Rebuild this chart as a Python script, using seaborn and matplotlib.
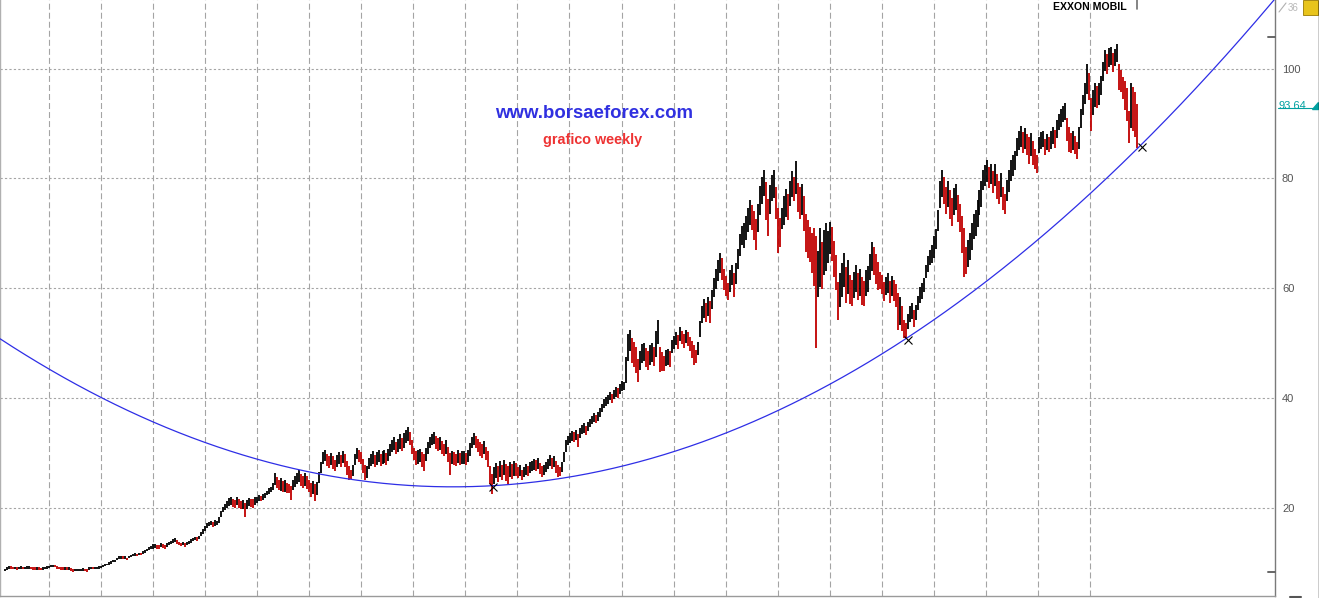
import numpy as np
import pandas as pd
import matplotlib
matplotlib.use("Agg")
import matplotlib.pyplot as plt
import matplotlib.dates as mdates
from matplotlib.lines import Line2D
from matplotlib.patches import Rectangle, Polygon
import seaborn as sns

# ---------------- data (bi-weekly bars) ----------------
first_bar = "1993-03-02"
bar_step = "14D"

highs = [
    # 1993
    9.0, 9.2, 9.5, 9.4, 9.3, 9.3, 9.2, 9.3, 9.4, 9.3, 9.3, 9.4, 9.4, 9.3, 9.3, 9.2, 9.3, 9.2, 9.1, 9.2, 9.3, 9.4,
    # 1994
    9.5, 9.7, 9.7, 9.6, 9.5, 9.3, 9.3, 9.2, 9.2, 9.2, 9.3, 9.1, 8.9, 8.9, 9.0, 9.0, 9.0, 9.1, 9.0, 8.9, 9.2, 9.3, 9.2, 9.3, 9.3, 9.4,
    # 1995
    9.5, 9.6, 9.8, 9.9, 10.1, 10.3, 10.5, 10.6, 11.0, 11.2, 11.3, 11.2, 11.3, 11.0, 11.3, 11.5, 11.6, 11.8, 11.7, 11.9, 11.8, 12.1, 12.3, 12.5, 12.9, 13.1,
    # 1996
    13.4, 13.5, 13.3, 13.2, 13.6, 13.4, 13.3, 13.7, 13.9, 14.1, 14.3, 14.5, 14.2, 13.9, 13.7, 13.8, 13.6, 13.9, 14.0, 14.3, 14.6, 14.8, 14.7, 15.0, 15.6, 16.2,
    # 1997
    16.8, 17.2, 17.5, 17.6, 17.4, 17.8, 17.7, 18.3, 19.5, 20.2, 20.8, 21.3, 21.8, 22.0, 21.7, 21.5, 22.0, 21.6, 21.2, 21.4, 21.0, 21.5, 21.9, 21.7, 21.6, 22.0,
    # 1998
    22.0, 22.3, 22.2, 22.5, 22.8, 23.2, 23.6, 23.9, 24.6, 26.3, 25.6, 25.2, 25.4, 24.9, 25.2, 24.6, 24.4, 24.0, 25.2, 25.9, 26.4, 26.9, 26.2, 25.8, 26.3, 25.9,
    # 1999
    25.2, 24.6, 24.9, 24.3, 24.8, 26.5, 28.4, 30.2, 30.6, 29.8, 29.5, 30.1, 29.4, 28.8, 29.6, 30.2, 29.7, 30.4, 29.8, 28.6, 27.6, 26.9, 27.8, 29.9, 31.0, 30.6,
    # 2000
    30.2, 29.0, 27.8, 27.6, 29.2, 29.8, 30.4, 29.6, 30.2, 30.6, 29.9, 30.3, 30.5, 30.1, 30.8, 31.6, 32.4, 32.9, 32.1, 32.6, 33.4, 32.8, 33.6, 34.2, 34.7, 33.8,
    # 2001
    32.4, 31.0, 30.3, 30.5, 30.8, 30.2, 29.8, 30.9, 32.0, 32.9, 33.5, 33.9, 33.2, 32.8, 33.0, 32.2, 31.6, 32.4, 31.2, 30.0, 30.4, 30.2, 29.8, 30.5, 30.0, 30.3,
    # 2002
    30.4, 30.0, 30.6, 31.8, 33.0, 33.6, 33.2, 32.6, 32.0, 31.6, 32.3, 31.2, 30.4, 27.6, 26.2, 27.4, 28.2, 27.6, 28.5, 27.8, 28.7, 28.0, 27.6, 28.4, 28.0, 28.6,
    # 2003
    28.2, 27.4, 27.8, 27.0, 27.5, 28.0, 27.6, 28.3, 28.6, 29.0, 28.8, 29.1, 28.2, 27.6, 27.9, 28.4, 29.0, 29.6, 29.2, 29.4, 28.6, 27.8, 27.4, 28.3, 30.2, 32.4,
    # 2004
    33.2, 33.6, 34.1, 33.9, 34.3, 33.5, 34.6, 35.2, 35.4, 35.0, 35.6, 36.2, 36.8, 37.3, 36.9, 37.4, 38.2, 39.0, 39.8, 40.2, 40.6, 41.2, 40.8, 41.5, 42.0, 41.8,
    # 2005
    42.6, 43.2, 43.0, 47.5, 51.6, 52.4, 51.0, 50.2, 49.4, 47.2, 48.6, 49.8, 50.1, 49.2, 48.6, 49.6, 50.0, 49.4, 52.2, 54.2, 49.3, 48.4, 47.6, 48.8, 49.0, 48.5,
    # 2006
    50.6, 51.4, 52.0, 51.5, 52.9, 52.2, 51.6, 52.4, 52.0, 51.2, 50.4, 49.6, 48.8, 50.2, 54.0, 56.8, 58.0, 57.4, 58.4, 57.6, 59.6, 61.8, 63.5, 65.2, 66.4, 65.5,
    # 2007
    63.5, 62.2, 61.0, 63.4, 64.2, 62.8, 64.6, 67.2, 69.8, 71.4, 71.8, 73.2, 74.6, 76.0, 75.2, 74.0, 72.6, 75.4, 78.6, 80.2, 81.5, 79.4, 76.2, 78.8, 80.6, 81.5,
    # 2008
    78.4, 74.7, 72.8, 74.6, 76.8, 78.0, 77.2, 79.6, 81.4, 80.2, 83.1, 79.2, 78.4, 79.0, 76.8, 73.6, 72.4, 71.2, 70.0, 71.0, 69.6, 66.8, 71.0, 68.4, 70.6, 71.8,
    # 2009
    70.4, 72.0, 71.2, 68.6, 66.0, 61.2, 62.8, 64.6, 66.4, 63.8, 65.2, 62.4, 61.6, 63.0, 64.2, 62.8, 63.6, 62.0, 61.4, 63.4, 64.0, 66.2, 68.4, 67.6, 66.2, 64.8,
    # 2010
    63.0, 62.4, 61.2, 62.0, 62.7, 61.4, 62.2, 61.6, 60.8, 59.2, 58.4, 56.8, 54.2, 53.6, 55.4, 56.8, 57.3, 56.0, 57.0, 58.6, 60.2, 60.9, 61.8, 64.2, 65.8, 66.9,
    # 2011
    67.8, 69.6, 70.8, 74.2, 79.6, 81.5, 80.2, 78.4, 79.6, 77.8, 76.4, 78.2, 79.0, 77.0, 75.4, 73.2, 71.0, 67.6, 68.8, 70.0, 71.8, 73.6, 74.2, 76.0, 77.8, 79.6,
    # 2012
    81.6, 82.4, 83.3, 82.0, 82.7, 81.4, 82.6, 80.8, 79.6, 81.0, 78.4, 77.2, 79.8, 81.6, 83.4, 84.2, 85.0, 87.4, 88.6, 89.6, 88.4, 89.2, 88.0, 87.6, 88.2, 86.8,
    # 2013
    85.4, 84.2, 87.6, 88.4, 88.7, 87.2, 88.0, 87.6, 88.6, 89.4, 88.8, 90.6, 91.8, 92.6, 93.2, 93.8, 91.0, 89.4, 88.2, 88.7, 87.8, 86.6, 89.4, 92.6, 95.2, 97.4,
    # 2014
    100.9, 99.2, 94.6, 96.0, 97.3, 96.8, 97.4, 98.6, 101.2, 103.3, 102.6, 103.8, 104.0, 102.8, 103.6, 104.5, 100.9, 99.8, 98.4, 97.8, 96.4, 92.2, 97.3, 96.6, 95.8, 93.6,
]

lows = [
    # 1993
    8.5, 8.7, 9.0, 9.0, 8.9, 8.9, 8.8, 8.9, 8.9, 8.9, 8.9, 9.0, 9.0, 8.9, 8.8, 8.8, 8.8, 8.8, 8.7, 8.8, 8.9, 9.0,
    # 1994
    9.1, 9.3, 9.3, 9.2, 9.0, 8.9, 8.8, 8.8, 8.8, 8.7, 8.8, 8.6, 8.4, 8.5, 8.6, 8.6, 8.6, 8.6, 8.5, 8.4, 8.8, 8.9, 8.9, 8.9, 8.9, 9.0,
    # 1995
    9.1, 9.2, 9.4, 9.6, 9.7, 9.9, 10.1, 10.2, 10.5, 10.7, 10.8, 10.7, 10.8, 10.5, 10.9, 11.1, 11.2, 11.3, 11.3, 11.4, 11.4, 11.6, 11.8, 12.1, 12.3, 12.5,
    # 1996
    12.6, 12.8, 12.5, 12.6, 12.9, 12.7, 12.6, 13.0, 13.2, 13.4, 13.6, 13.9, 13.5, 13.2, 13.1, 13.2, 13.0, 13.3, 13.4, 13.7, 14.0, 14.2, 14.1, 14.4, 14.9, 15.3,
    # 1997
    15.9, 16.4, 16.7, 16.9, 16.6, 16.8, 17.0, 17.2, 18.4, 19.3, 19.6, 20.0, 20.4, 20.6, 20.2, 20.0, 20.5, 20.1, 19.8, 19.9, 18.4, 19.8, 20.4, 20.2, 20.0, 20.5,
    # 1998
    21.0, 21.3, 21.2, 21.5, 21.8, 22.3, 22.6, 22.9, 23.3, 24.2, 23.6, 23.3, 23.2, 22.9, 23.0, 22.7, 22.8, 21.5, 23.3, 23.9, 24.3, 24.7, 24.0, 23.6, 24.0, 23.5,
    # 1999
    23.0, 22.1, 22.6, 21.3, 22.4, 24.6, 26.4, 28.0, 28.5, 27.6, 27.3, 27.9, 27.2, 26.8, 27.4, 28.0, 27.5, 28.2, 27.4, 26.0, 25.1, 25.3, 25.9, 27.8, 28.9, 28.3,
    # 2000
    28.0, 26.4, 25.1, 25.4, 27.2, 27.6, 28.0, 27.5, 27.9, 28.3, 27.6, 28.0, 28.2, 27.8, 28.6, 29.5, 30.2, 30.6, 29.8, 30.2, 30.7, 30.4, 31.0, 31.8, 32.2, 31.4,
    # 2001
    29.8, 28.7, 27.8, 28.0, 28.3, 27.5, 26.7, 28.6, 29.9, 30.9, 31.4, 31.7, 30.8, 30.3, 30.6, 29.8, 29.4, 29.9, 28.4, 26.0, 28.0, 27.9, 27.6, 28.2, 27.9, 28.0,
    # 2002
    28.0, 27.8, 28.4, 29.5, 31.0, 31.4, 30.9, 30.2, 29.5, 29.2, 29.8, 28.8, 27.5, 24.3, 22.6, 24.4, 25.5, 24.8, 25.7, 25.2, 26.0, 25.0, 24.3, 25.6, 25.3, 25.9,
    # 2003
    25.9, 25.4, 25.8, 25.2, 25.6, 26.0, 25.8, 26.4, 26.7, 27.0, 26.8, 27.1, 26.2, 25.7, 26.0, 26.6, 27.1, 27.6, 27.2, 27.4, 26.4, 25.6, 25.8, 26.6, 28.4, 30.2,
    # 2004
    31.4, 31.8, 32.3, 32.0, 32.4, 31.1, 32.8, 33.5, 33.7, 33.3, 34.0, 34.8, 35.3, 35.7, 35.4, 35.9, 36.6, 37.4, 38.2, 38.6, 39.0, 39.6, 39.2, 39.8, 40.2, 40.1,
    # 2005
    40.8, 41.3, 41.5, 42.8, 46.8, 48.5, 46.4, 45.6, 44.6, 42.9, 45.2, 46.4, 46.8, 45.6, 45.2, 46.1, 46.6, 45.8, 47.5, 49.8, 44.7, 44.9, 45.0, 45.8, 46.0, 45.6,
    # 2006
    48.2, 48.9, 49.6, 49.0, 50.4, 49.8, 49.2, 50.0, 49.5, 48.6, 47.4, 46.0, 46.4, 47.8, 51.2, 53.6, 54.6, 53.8, 55.0, 53.6, 56.2, 58.4, 59.8, 61.4, 62.8, 61.6,
    # 2007
    59.6, 58.6, 57.8, 59.4, 60.6, 58.4, 60.8, 63.6, 65.8, 67.8, 67.4, 68.7, 70.2, 71.6, 70.6, 68.8, 67.0, 70.2, 73.4, 75.4, 76.8, 72.4, 69.5, 73.6, 75.8, 76.4,
    # 2008
    72.6, 66.4, 67.6, 70.8, 71.6, 73.0, 72.4, 75.0, 76.6, 75.8, 77.2, 73.8, 72.6, 73.4, 70.4, 66.6, 65.6, 64.8, 62.7, 60.4, 49.1, 58.4, 60.2, 59.8, 62.4, 63.2,
    # 2009
    64.6, 66.2, 65.0, 62.0, 59.6, 54.2, 56.6, 58.4, 60.2, 57.4, 59.0, 57.2, 56.8, 58.2, 59.4, 57.8, 58.6, 57.0, 56.8, 58.6, 59.4, 61.6, 63.2, 62.4, 60.8, 59.6,
    # 2010
    59.8, 59.0, 57.6, 58.8, 59.2, 57.4, 58.6, 57.6, 56.6, 52.4, 53.4, 52.2, 51.0, 50.8, 52.6, 53.8, 54.4, 52.9, 54.2, 56.0, 57.4, 58.0, 59.4, 61.8, 63.0, 64.2,
    # 2011
    64.6, 65.6, 67.2, 70.4, 74.6, 76.6, 75.4, 73.6, 74.8, 72.6, 71.4, 73.4, 74.2, 72.0, 70.2, 66.4, 62.0, 62.6, 63.8, 65.2, 67.0, 69.0, 69.6, 71.2, 73.4, 74.8,
    # 2012
    77.8, 78.6, 79.4, 78.2, 79.0, 77.4, 78.6, 76.2, 75.4, 76.6, 74.2, 73.6, 75.8, 77.6, 79.6, 80.4, 81.6, 84.0, 85.2, 85.8, 84.6, 85.4, 84.2, 82.6, 84.0, 82.4,
    # 2013
    81.8, 80.9, 84.6, 85.4, 85.8, 84.2, 85.2, 84.8, 85.4, 86.2, 85.6, 87.4, 88.8, 89.4, 90.2, 90.6, 86.8, 84.8, 84.6, 85.2, 84.4, 83.6, 85.4, 89.2, 91.6, 93.6,
    # 2014
    95.4, 94.2, 88.7, 91.6, 93.0, 92.9, 93.4, 95.2, 97.8, 99.6, 99.0, 100.2, 100.6, 99.4, 100.4, 101.2, 96.0, 95.8, 94.4, 92.4, 90.5, 86.5, 89.2, 88.6, 87.6, 85.6,
]

last_close = 93.64
price_ticks = [20, 40, 60, 80, 100]
marker_levels = [105.8, 8.4]

# blue parabola drawn by the chart author: points read along it
curve_dates = ["1993-01-25", "1998-06-13", "2002-01-15", "2003-10-10", "2006-09-12", "2010-07-03", "2012-11-20", "2014-12-27", "2017-07-10"]
curve_prices = [50.95, 27.7, 23.6, 25.2, 33.0, 50.6, 69.0, 85.7, 112.4]
# touch points marked with an X
touch_dates = ["2002-07-11", "2010-07-03", "2014-12-27"]
touch_prices = [23.8, 50.6, 85.7]

title = "EXXON MOBIL"
site = "www.borsaeforex.com"
subtitle = "grafico weekly"

# ---------------- drawing ----------------
sns.set_theme(style="white")
plt.rcParams["font.family"] = ["Liberation Sans", "DejaVu Sans"]
plt.rcParams["lines.scale_dashes"] = False

W, H = 1319, 598
fig = plt.figure(figsize=(W / 100, H / 100), dpi=100)
fig.patch.set_facecolor("white")
ax = fig.add_axes([0, 2 / H, 1275 / W, 1 - 2 / H])
ax.set_facecolor("white")

hi = np.array(highs)
lo = np.array(lows)
assert len(hi) == len(lo)
dates = pd.date_range(first_bar, periods=len(hi), freq=bar_step)
mids = (hi + lo) / 2
up = np.r_[True, np.diff(mids) >= 0]
colors = np.where(up, "#000000", "#c00000")

x_left = pd.Timestamp("1993-01-25")
x_right = pd.Timestamp("2017-07-18")

# grid
for yr in range(1994, dates[-1].year + 1):
    ax.axvline(pd.Timestamp(f"{yr}-01-01"), color="#a4a4a4", lw=0.8, dashes=(4.3, 2.2), zorder=0)
for v in price_ticks:
    ax.axhline(v, color="#a4a4a4", lw=0.8, dashes=(1.6, 1.6), zorder=0)

# bars
ax.vlines(dates, lo, hi, colors=colors, linewidth=1.3, zorder=2)

# parabola
cx = mdates.date2num(pd.to_datetime(curve_dates))
coef = np.polyfit(cx, np.array(curve_prices), 2)
xx = np.linspace(mdates.date2num(x_left), mdates.date2num(x_right), 600)
curve_df = pd.DataFrame({"date": mdates.num2date(xx), "price": np.polyval(coef, xx)})
curve_df["date"] = pd.to_datetime(curve_df["date"]).dt.tz_localize(None)
sns.lineplot(data=curve_df, x="date", y="price", ax=ax, color="#2e2ee6", lw=0.9,
             legend=False, zorder=3)
ax.plot(pd.to_datetime(touch_dates), touch_prices, linestyle="none", marker="x",
        markersize=6, mew=0.8, color="black", zorder=4)

ax.set_xlim(x_left, x_right)
ax.set_ylim(4.0, 112.47)
ax.set_xlabel("")
ax.set_ylabel("")
ax.set_xticks([])
ax.yaxis.tick_right()
ax.set_yticks(price_ticks)
ax.set_yticklabels([str(v) for v in price_ticks])
ax.tick_params(axis="y", length=0, pad=5, labelsize=8, labelcolor="#555555")
ax.grid(False)
ax.spines["top"].set_visible(False)
ax.spines["right"].set_color("#7a7a7a")
ax.spines["right"].set_linewidth(1.0)
ax.spines["bottom"].set_color("#9a9a9a")
ax.spines["bottom"].set_linewidth(1.0)
ax.spines["left"].set_color("#b0b0b0")
ax.spines["left"].set_linewidth(1.0)

# extreme markers on the price axis
for v in marker_levels:
    ax.plot([1 - 7 / 1275, 1], [v, v], transform=ax.get_yaxis_transform(),
            color="#666666", lw=1.4, clip_on=False, zorder=5)
# last bar tick at the top
ax.plot([dates[-1], dates[-1]], [0.985, 1.0], transform=ax.get_xaxis_transform(),
        color="#707070", lw=1.2, clip_on=False)

# last price label
ax.annotate(f"{last_close:.2f}", xy=(1.0, last_close), xycoords=ax.get_yaxis_transform(),
            xytext=(2.5, -1.5), textcoords="offset points", ha="left", va="center",
            fontsize=8, color="#00a0a0", annotation_clip=False)
fig.add_artist(Line2D([1278 / W, 1313 / W], [1 - 108.5 / H] * 2, color="#00a0a0", lw=0.8))
fig.add_artist(Polygon([[1312 / W, 1 - 109 / H], [1318 / W, 1 - 109 / H], [1318 / W, 1 - 102 / H]],
                       closed=True, color="#00a0a0", transform=fig.transFigure))

# texts
fig.text(1053 / W, 1 - 7 / H, title, fontsize=7.6, fontweight="bold", color="black",
         ha="left", va="center")
fig.text(594 / W, 1 - 113 / H, site, fontsize=13.4, fontweight="bold", color="#3030e0",
         ha="center", va="center")
fig.text(593 / W, 1 - 140 / H, subtitle, fontsize=10.4, fontweight="bold", color="#ee3333",
         ha="center", va="center")

# small widgets at the top right and frame
fig.add_artist(Line2D([1279 / W, 1286 / W], [1 - 12 / H, 1 - 3 / H], color="#b0b0b0", lw=0.8))
fig.text(1288 / W, 1 - 8 / H, "36", fontsize=7, color="#b8b8b8", ha="left", va="center")
fig.add_artist(Rectangle((1303 / W, 1 - 15 / H), 15 / W, 15 / H, transform=fig.transFigure,
                         facecolor="#e8c41c", edgecolor="#9a7a00", lw=0.6))
fig.add_artist(Line2D([1318.5 / W, 1318.5 / W], [0, 1], color="black", lw=1.0))
fig.add_artist(Line2D([1290 / W, 1301 / W], [1 - 596.5 / H] * 2, color="#555555", lw=1.5))

fig.savefig("out.png", dpi=100, facecolor="white")
